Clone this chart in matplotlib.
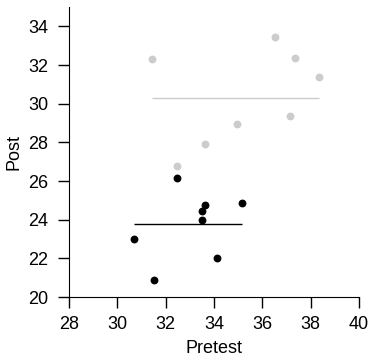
import matplotlib
matplotlib.use("Agg")
import matplotlib.pyplot as plt
import numpy as np

plt.rcParams['font.family'] = ['Liberation Sans', 'DejaVu Sans']

# pretest / post scores, two groups
grey_pre = [31.43, 36.54, 37.35, 38.34, 37.16, 34.94, 33.63, 32.47]
grey_post = [32.33, 33.43, 32.35, 31.40, 29.38, 28.95, 27.90, 26.78]
black_pre = [32.47, 33.64, 35.16, 33.52, 33.52, 30.70, 34.14, 31.52]
black_post = [26.16, 24.77, 24.86, 24.43, 23.96, 22.98, 22.03, 20.86]

fig = plt.figure(figsize=(3.7, 3.6), dpi=100)
ax = fig.add_axes([69 / 370, 1 - 297 / 360, 290 / 370, 290 / 360])

ax.scatter(grey_pre, grey_post, s=32, color='#cccccc', linewidths=0, zorder=3)
ax.scatter(black_pre, black_post, s=32, color='black', linewidths=0, zorder=3)

# group means drawn across the range of pretest values
ax.hlines(np.mean(grey_post), min(grey_pre), max(grey_pre), color='#cccccc', lw=1)
ax.hlines(np.mean(black_post), min(black_pre), max(black_pre), color='black', lw=1)

ax.set_xlim(28, 40)
ax.set_ylim(20, 35)
ax.set_xticks(range(28, 41, 2))
ax.set_yticks(range(20, 35, 2))
ax.spines['top'].set_visible(False)
ax.spines['right'].set_visible(False)
ax.tick_params(length=8, width=1, labelsize=13)
ax.tick_params(axis='x', pad=6)
ax.tick_params(axis='y', pad=7)
ax.set_xlabel('Pretest', fontsize=13, labelpad=5)
ax.set_ylabel('Post', fontsize=13, labelpad=4)

fig.savefig('out.png', dpi=100)
